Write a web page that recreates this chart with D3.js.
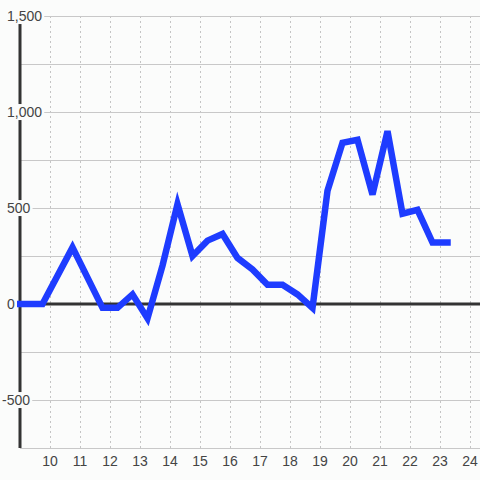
<!DOCTYPE html>
<html>
<head>
<meta charset="utf-8">
<script src="https://cdn.jsdelivr.net/npm/d3@7"></script>
<style>
  body { margin: 0; background: #fbfcfb; }
  text { font-family: "Liberation Sans", Arial, sans-serif; }
</style>
</head>
<body>
<div id="chart"></div>
<script>
// Data
var xs = [9, 9.75, 10.75, 11.75, 12.25, 12.75, 13.25, 13.75, 14.25, 14.75, 15.25, 15.75,
          16.25, 16.75, 17.25, 17.75, 18.25, 18.75, 19.25, 19.75, 20.25, 20.75, 21.25,
          21.75, 22.25, 22.75, 23.25];
var values = [0, 0, 295, -20, -20, 50, -75, 200, 520, 250, 330, 365,
              240, 180, 100, 100, 50, -20, 590, 840, 855, 570, 900,
              470, 490, 320, 320];
var xTicks = [10, 11, 12, 13, 14, 15, 16, 17, 18, 19, 20, 21, 22, 23, 24];
var yGrid = [-750, -500, -250, 0, 250, 500, 750, 1000, 1250, 1500];
var yLabels = [-500, 0, 500, 1000, 1500];

var data = xs.map(function (d, i) { return { x: d, y: values[i] }; });

// Dimensions
var width = 480, height = 480;
var margin = { top: 16, right: 0, bottom: 32, left: 20 };

var svg = d3.select("#chart")
    .append("svg")
    .attr("width", width)
    .attr("height", height);

svg.append("rect")
    .attr("width", width)
    .attr("height", height)
    .attr("fill", "#fbfcfb");

var x = d3.scaleLinear()
    .domain([9, 9 + (width - margin.left) / 30])
    .range([margin.left, width]);

var y = d3.scaleLinear()
    .domain([-750, 1500])
    .range([height - margin.bottom, margin.top]);

// Vertical dotted grid
svg.append("g")
    .selectAll("line")
    .data(xTicks)
    .join("line")
    .attr("x1", function (d) { return x(d) + 0.5; })
    .attr("x2", function (d) { return x(d) + 0.5; })
    .attr("y1", y(1500))
    .attr("y2", y(-750))
    .attr("stroke", "#c4c4c4")
    .attr("stroke-width", 1)
    .attr("stroke-dasharray", "2,3");

// Horizontal grid
svg.append("g")
    .selectAll("line")
    .data(yGrid)
    .join("line")
    .attr("x1", margin.left)
    .attr("x2", width)
    .attr("y1", function (d) { return y(d) + 0.5; })
    .attr("y2", function (d) { return y(d) + 0.5; })
    .attr("stroke", "#c8c8c8")
    .attr("stroke-width", 1);

// Zero line
svg.append("line")
    .attr("x1", margin.left)
    .attr("x2", width)
    .attr("y1", y(0))
    .attr("y2", y(0))
    .attr("stroke", "#333")
    .attr("stroke-width", 3);

// Y axis line
svg.append("line")
    .attr("x1", x(9))
    .attr("x2", x(9))
    .attr("y1", y(1500))
    .attr("y2", y(-750))
    .attr("stroke", "#333")
    .attr("stroke-width", 3);

// Data line
svg.append("path")
    .datum(data)
    .attr("fill", "none")
    .attr("stroke", "#1e3cff")
    .attr("stroke-width", 6.5)
    .attr("stroke-linecap", "square")
    .attr("stroke-linejoin", "miter")
    .attr("d", d3.line()
        .x(function (d) { return x(d.x); })
        .y(function (d) { return y(d.y); })
    );

// Y labels with background boxes over the axis
var fmt = function (d) { return d3.format(",")(d).replace("\u2212", "-"); };
var yl = svg.append("g")
    .selectAll("g")
    .data(yLabels)
    .join("g");

yl.append("text")
    .attr("x", function (d) { return d < 0 ? 2 : 7; })
    .attr("y", function (d) { return y(d); })
    .attr("dy", "0.36em")
    .attr("font-size", 14)
    .attr("fill", "#444")
    .text(function (d) { return fmt(d); })
    .each(function () {
        var b = this.getBBox();
        d3.select(this.parentNode).insert("rect", "text")
            .attr("x", b.x - 1)
            .attr("y", b.y)
            .attr("width", b.width + 3)
            .attr("height", b.height)
            .attr("fill", "#fbfcfb");
    });

// X labels
svg.append("g")
    .selectAll("text")
    .data(xTicks)
    .join("text")
    .attr("x", function (d) { return x(d); })
    .attr("y", 466)
    .attr("text-anchor", "middle")
    .attr("font-size", 14)
    .attr("fill", "#444")
    .text(function (d) { return d; });
</script>
</body>
</html>
